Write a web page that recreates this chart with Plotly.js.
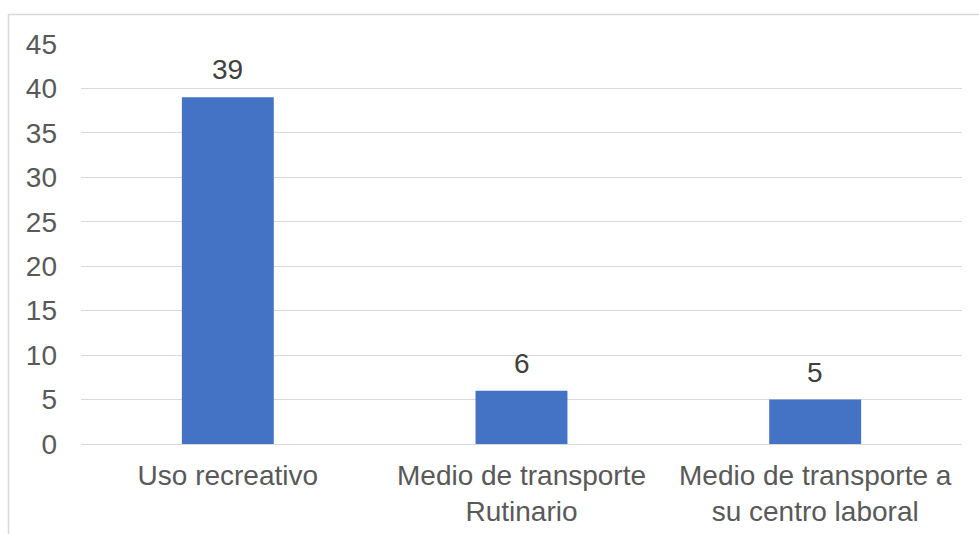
<!DOCTYPE html>
<html>
<head>
<meta charset="utf-8">
<script src="https://cdn.plot.ly/plotly-3.0.1.min.js"></script>
<style>html,body{margin:0;padding:0;background:#fff;}#chart{width:979px;height:534px;}</style>
</head>
<body>
<div id="chart"></div>
<script>
const categories = ["Uso recreativo", "Medio de transporte<br>Rutinario", "Medio de transporte a<br>su centro laboral"];
const values = [39, 6, 5];
const yTicks = [0, 5, 10, 15, 20, 25, 30, 35, 40, 45];

const fontFamily = "'Liberation Sans', Arial, sans-serif";
const fontSize = 28;

const trace = {
  type: 'bar',
  x: categories,
  y: values,
  marker: {color: '#4472c4'},
  hoverinfo: 'x+y'
};

const annotations = categories.map((c, i) => ({
  x: c, y: values[i], xref: 'x', yref: 'y',
  text: String(values[i]),
  showarrow: false,
  yanchor: 'bottom',
  yshift: 10,
  font: {family: fontFamily, size: fontSize, color: '#404040'}
}));

const layout = {
  width: 979, height: 534,
  margin: {l: 81, r: 17, t: 43.5, b: 89.5},
  paper_bgcolor: '#ffffff',
  plot_bgcolor: '#ffffff',
  bargap: 0.687,
  showlegend: false,
  font: {family: fontFamily, size: fontSize, color: '#595959'},
  xaxis: {
    type: 'category',
    showgrid: false,
    zeroline: false,
    showline: false,
    ticks: '',
    ticklabelstandoff: 12,
    tickfont: {family: fontFamily, size: fontSize, color: '#595959'}
  },
  yaxis: {
    range: [0, 45],
    tickvals: yTicks,
    ticktext: yTicks.map(String),
    showgrid: true,
    gridcolor: '#d9d9d9',
    gridwidth: 1,
    zeroline: true,
    zerolinecolor: '#d9d9d9',
    zerolinewidth: 1,
    showline: false,
    ticks: '',
    ticklabelstandoff: 23,
    tickfont: {family: fontFamily, size: fontSize, color: '#595959'}
  },
  annotations: annotations,
  shapes: [{
    type: 'rect', xref: 'paper', yref: 'paper',
    x0: (8.5 - 81) / 881, x1: (990 - 81) / 881,
    y0: (444.5 - 545) / 401, y1: (444.5 - 14) / 401,
    line: {color: '#d9d9d9', width: 1.5},
    fillcolor: 'rgba(0,0,0,0)',
    layer: 'below'
  }]
};

Plotly.newPlot('chart', [trace], layout, {displayModeBar: false, staticPlot: true});
</script>
</body>
</html>
